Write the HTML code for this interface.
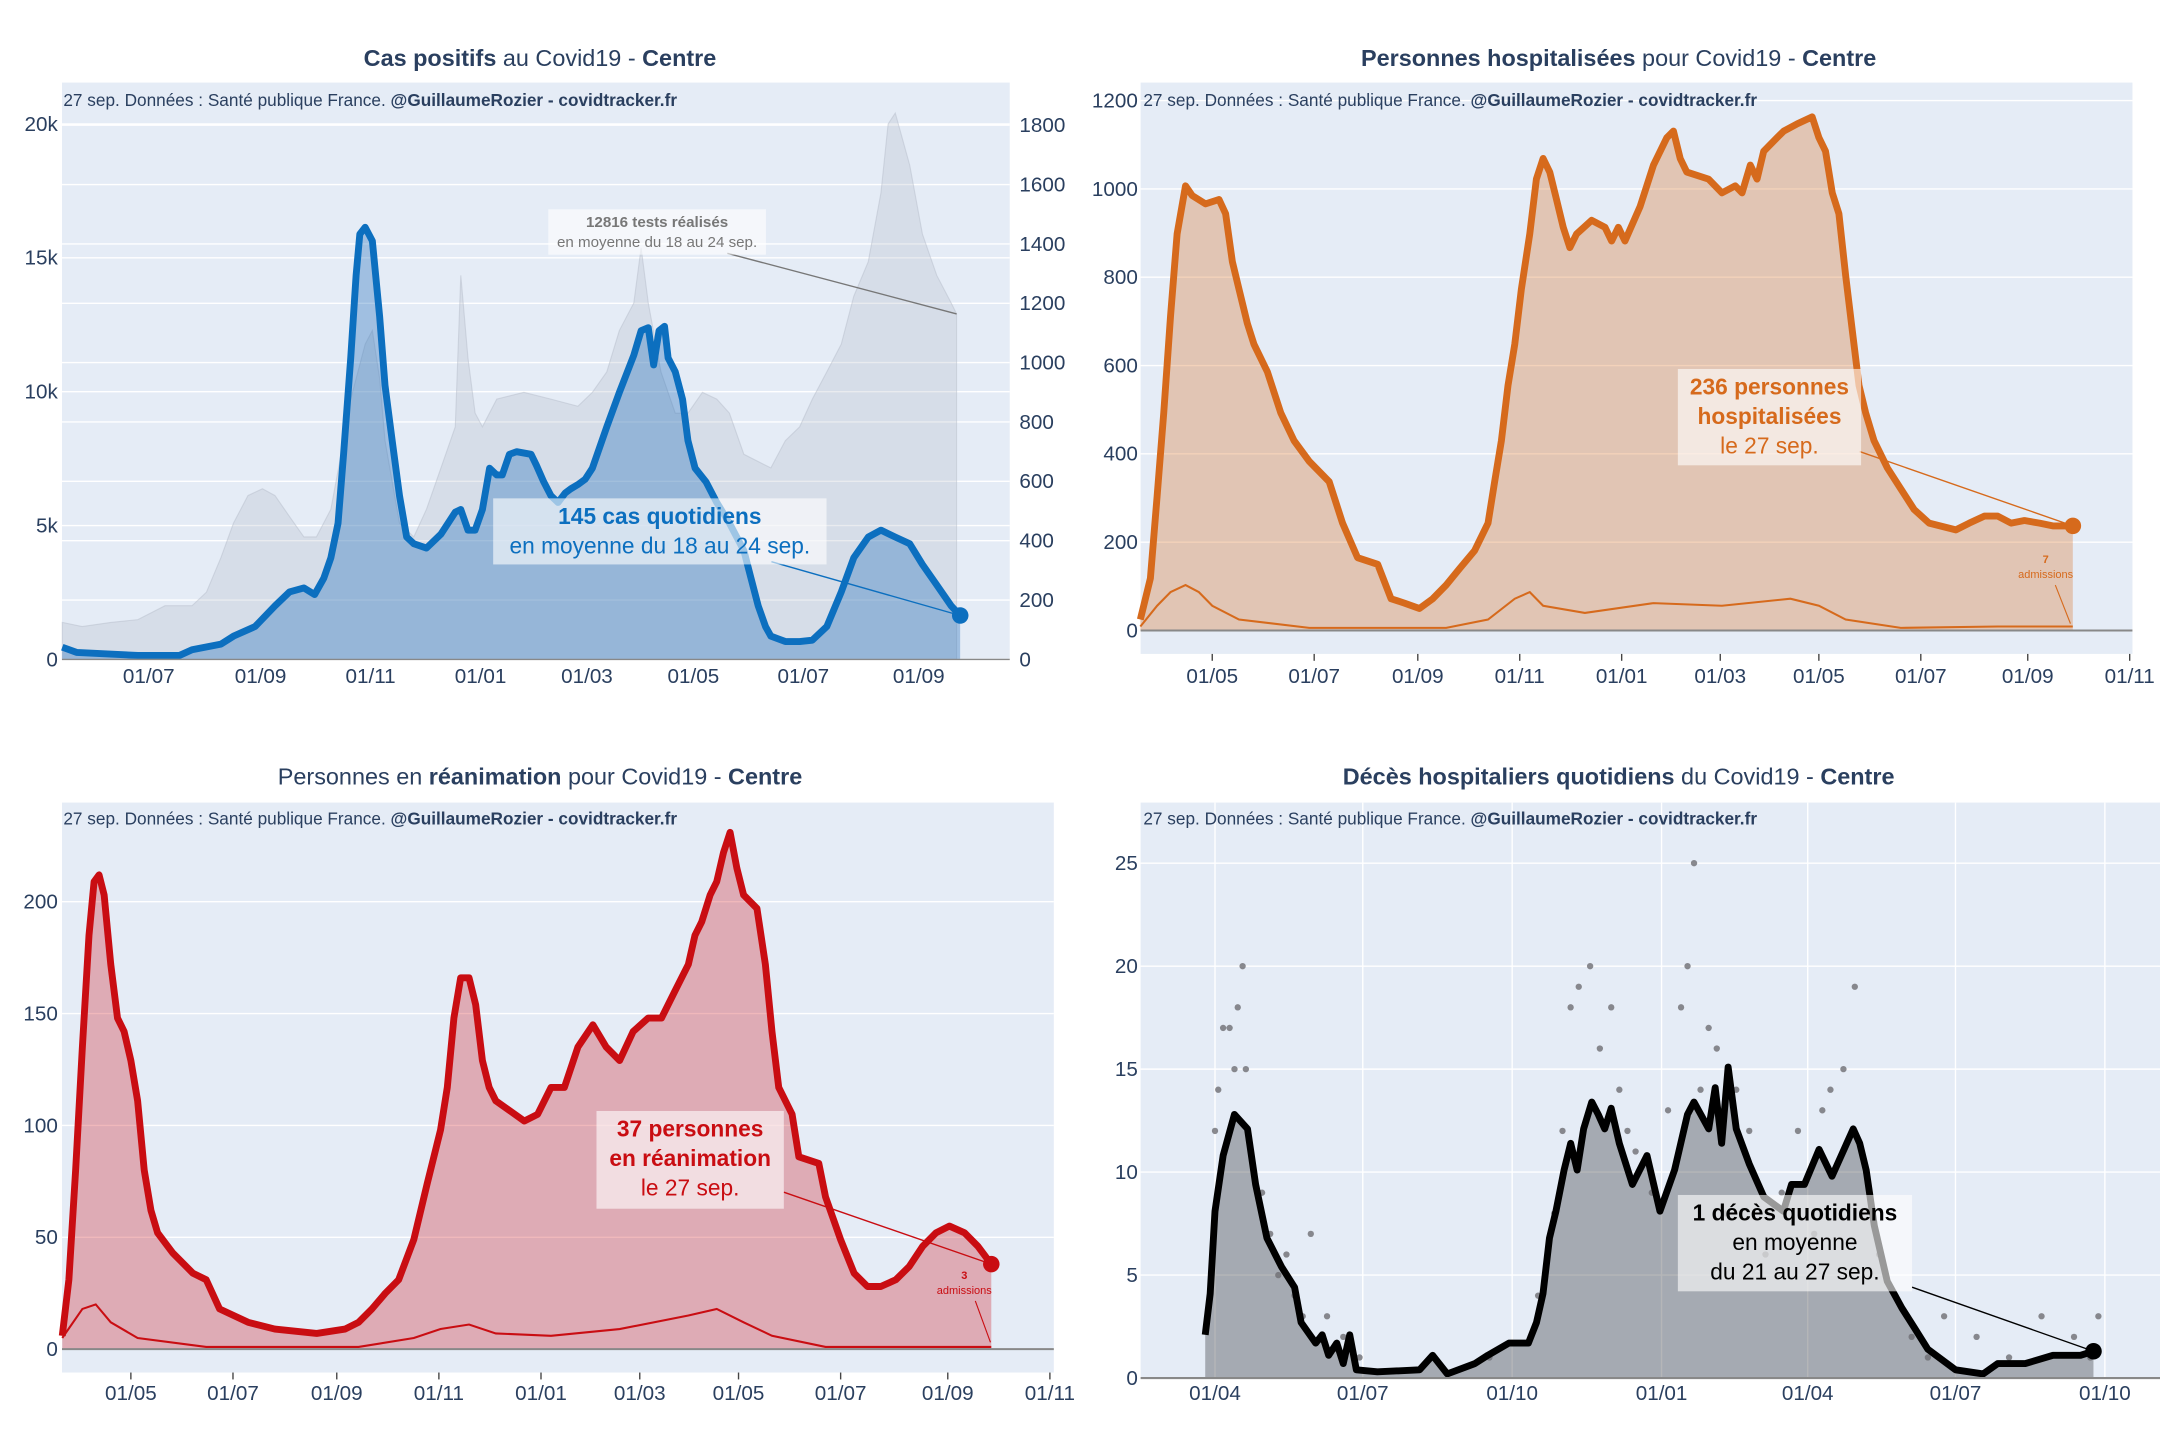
<!DOCTYPE html>
<html><head><meta charset="utf-8"><style>
html,body{margin:0;padding:0;background:#fff;}
svg{display:block;font-family:"Liberation Sans",sans-serif;}
</style></head><body>
<svg id="root" width="2160" height="1440" viewBox="0 0 1568 1046" preserveAspectRatio="none" xmlns="http://www.w3.org/2000/svg"></svg>
<script>
// ---------- DATA (day index since 2020-03-01) ----------
const casesDays=[74,82,116,139,146,162,169,181,192,200,208,214,219,223,227,230,234,237,239,242,246,250,253,257,261,265,269,276,284,292,295,299,303,307,311,315,318,322,326,334,337,341,345,349,353,356,360,364,368,376,383,391,395,399,402,405,408,410,414,418,421,425,431,437,444,452,456,460,464,467,475,483,490,498,506,513,521,528,536,544,551,559,567,572];
const casesVals=[460,260,150,150,360,570,870,1230,2000,2520,2670,2420,3030,3800,5090,7660,11260,14340,15880,16140,15630,12800,10230,8170,6120,4570,4320,4160,4680,5500,5600,4830,4830,5600,7140,6890,6890,7660,7760,7660,7250,6630,6120,5860,6220,6370,6530,6730,7140,8690,9970,11360,12280,12390,11000,12280,12440,11260,10740,9710,8170,7140,6630,5860,5090,4060,3030,2000,1230,870,670,670,720,1230,2520,3800,4570,4830,4570,4320,3550,2780,2000,1640];
const testDays=[74,85,101,116,131,146,154,162,169,177,185,192,200,208,215,223,230,234,238,242,246,250,253,261,269,276,284,292,295,299,303,307,315,330,345,360,368,376,383,391,395,399,406,414,421,429,437,444,452,467,475,483,490,498,506,513,521,528,532,536,544,551,559,567,570];
const testVals=[125,111,125,134,181,181,227,343,459,552,575,552,482,413,413,506,737,877,969,1062,1108,946,737,459,413,506,645,784,1294,1016,830,784,877,900,877,853,900,969,1108,1201,1387,1201,969,830,830,900,877,830,691,645,737,784,877,969,1062,1224,1340,1572,1804,1841,1665,1433,1294,1201,1164];
const c1LeftTicks=[0,5000,10000,15000,20000];
const c1LeftLabels=["0","5k","10k","15k","20k"];
const c1RightTicks=[0,200,400,600,800,1000,1200,1400,1600,1800];
const c1XTickDays=[122,184,245,306,365,424,485,549];
const c1XLabels=["01/07","01/09","01/11","01/01","01/03","01/05","01/07","01/09"];

const hospDays=[18,24,28,32,36,40,45,49,57,65,69,73,77,82,86,94,102,110,119,131,139,148,160,168,176,185,193,201,209,218,226,230,234,238,242,246,251,255,259,263,267,271,275,279,288,296,300,304,308,317,325,333,337,341,345,358,366,374,378,383,387,391,399,403,411,420,424,428,432,436,440,444,448,452,457,465,473,481,490,506,514,523,531,539,547,556,564,576];
const hospVals=[25,118,305,493,711,898,1007,985,966,976,944,835,773,695,648,586,493,430,383,337,243,165,150,72,62,50,72,103,140,181,243,337,430,555,648,773,898,1022,1069,1038,976,913,867,898,929,913,882,913,882,960,1054,1116,1131,1069,1038,1022,991,1007,991,1054,1022,1085,1116,1131,1147,1163,1116,1085,991,944,804,680,555,493,430,368,321,274,243,228,243,259,259,243,249,243,237,237];
const hospAdmDays=[18,28,36,45,53,61,77,119,201,226,242,251,259,284,325,366,407,424,440,473,531,576];
const hospAdmVals=[9,56,87,103,87,56,25,6,6,25,72,87,56,40,62,56,72,56,25,6,9,9];
const c2YTicks=[0,200,400,600,800,1000,1200];
const c2XTickDays=[61,122,184,245,306,365,424,485,549,610];
const c2XLabels=["01/05","01/07","01/09","01/11","01/01","01/03","01/05","01/07","01/09","01/11"];

const reaDays=[20,24,28,32,36,39,42,45,49,53,57,61,65,69,73,77,86,98,106,114,131,147,172,189,197,205,213,221,230,238,246,250,254,258,263,267,271,275,279,296,304,312,320,328,337,345,353,361,370,378,386,394,398,402,407,411,415,419,423,427,435,440,444,448,456,460,472,476,485,493,501,509,518,526,534,542,550,559,567,575];
const reaVals=[6,31,80,135,185,209,212,203,172,148,142,129,111,80,62,52,43,34,31,18,12,9,7,9,12,18,25,31,49,74,98,117,148,166,166,154,129,117,111,102,105,117,117,135,145,135,129,142,148,148,160,172,185,191,203,209,222,231,215,203,197,172,142,117,105,86,83,68,49,34,28,28,31,37,46,52,55,52,46,38];
const reaAdmDays=[20,32,40,49,65,106,197,230,246,263,279,312,353,394,411,427,444,476,575];
const reaAdmVals=[5,18,20,12,5,1,1,5,9,11,7,6,9,15,18,12,6,1,1];
const c3YTicks=[0,50,100,150,200];
const c3XTickDays=[61,122,184,245,306,365,424,485,549,610];
const c3XLabels=["01/05","01/07","01/09","01/11","01/01","01/03","01/05","01/07","01/09","01/11"];

const dcDays=[25,28,31,36,43,51,56,63,72,80,84,93,97,101,106,110,114,118,131,157,165,174,191,199,212,224,229,233,237,241,246,250,254,258,263,267,271,275,280,288,297,305,314,322,326,335,339,343,347,352,360,369,381,386,394,403,411,420,424,428,432,437,445,454,462,470,487,504,513,530,547,564,572];
const dcVals=[2.1,4.1,8.1,10.8,12.8,12.1,9.4,6.8,5.4,4.4,2.7,1.7,2.1,1.1,1.7,0.7,2.1,0.4,0.3,0.4,1.1,0.2,0.7,1.1,1.7,1.7,2.7,4.1,6.8,8.1,10.1,11.4,10.1,12.1,13.4,12.8,12.1,13.1,11.4,9.4,10.8,8.1,10.1,12.8,13.4,12.1,14.1,11.4,15.1,12.1,10.4,8.8,8.1,9.4,9.4,11.1,9.8,11.4,12.1,11.4,10.1,7.4,4.7,3.4,2.4,1.4,0.4,0.2,0.7,0.7,1.1,1.1,1.3];
const dcDotDays=[31,33,36,40,43,45,48,50,55,60,65,70,75,80,85,90,100,110,120,165,200,230,240,245,250,255,262,268,275,280,285,290,300,310,318,322,326,330,335,340,345,352,360,370,380,390,400,405,410,418,425,432,440,450,460,470,480,500,520,540,560,570,575];
const dcDotVals=[12,14,17,17,15,18,20,15,10,9,7,5,6,4,3,7,3,2,1,1,1,4,8,12,18,19,20,16,18,14,12,11,9,13,18,20,25,14,17,16,8,14,12,6,9,12,7,13,14,15,19,10,6,4,2,1,3,2,1,3,2,1,3];
const c4YTicks=[0,5,10,15,20,25];
const c4XTickDays=[31,122,214,306,396,487,579];
const c4XLabels=["01/04","01/07","01/10","01/01","01/04","01/07","01/10"];

// ---------- RENDER ----------
const NS="http://www.w3.org/2000/svg";
const root=document.getElementById('root');
function mk(tag,attrs,parent){const e=document.createElementNS(NS,tag);for(const k in attrs)e.setAttribute(k,attrs[k]);(parent||root).appendChild(e);return e;}
function linePath(days,vals,sx,sy){return days.map((d,i)=>(i?'L':'M')+sx(d).toFixed(1)+','+sy(vals[i]).toFixed(1)).join('');}
function areaPath(days,vals,sx,sy,base){return linePath(days,vals,sx,sy)+'L'+sx(days[days.length-1]).toFixed(1)+','+base+'L'+sx(days[0]).toFixed(1)+','+base+'Z';}
const TXT="#2a3f5f";

function frame(g,x0,y0,x1,y1){const r=mk('rect',{x:x0,y:y0,width:x1-x0,height:y1-y0,fill:'#e5ecf6'},g);

}
function title(g,cx,y,parts){const t=mk('text',{x:cx,y:y,'text-anchor':'middle','font-size':17,fill:TXT},g);


parts.forEach(p=>{const s=mk('tspan',{'font-weight':p[1]?'bold':'normal'},t);s.textContent=p[0];});}
function source(g,x,y){const t=mk('text',{x:x,y:y,'font-size':12.5,fill:TXT},g);


const a=mk('tspan',{},t);a.textContent="27 sep. Données : Santé publique France. ";
const b=mk('tspan',{'font-weight':'bold'},t);b.textContent="@GuillaumeRozier - covidtracker.fr";}
function hgrid(g,ticks,sy,x0,x1){ticks.forEach(v=>{const l=mk('line',{x1:x0,x2:x1,y1:sy(v),y2:sy(v),stroke:'#fff','stroke-width':1},g);

});}
function ylabels(g,ticks,labels,sy,x,anchor){ticks.forEach((v,i)=>{const t=mk('text',{x:x,y:sy(v)+5,'text-anchor':anchor,'font-size':15,fill:TXT},g);


t.textContent=labels?labels[i]:String(v);});}
function xlabels(g,days,labels,sx,y,tickY){days.forEach((d,i)=>{if(tickY!==undefined){const l=mk('line',{x1:sx(d),x2:sx(d),y1:tickY,y2:tickY+5,stroke:'#444','stroke-width':1},g);

}
const t=mk('text',{x:sx(d),y:y,'text-anchor':'middle','font-size':15,fill:TXT},g);


t.textContent=labels[i];});}
function annot(g,bx,by,bw,bh,lines,color,lx1,ly1,lx2,ly2,fs){const l=mk('line',{x1:lx1,y1:ly1,x2:lx2,y2:ly2,stroke:color,'stroke-width':1},g);


const r=mk('rect',{x:bx,y:by,width:bw,height:bh,fill:'rgba(255,255,255,0.6)'},g);


lines.forEach((ln,i)=>{const t=mk('text',{x:bx+bw/2,y:by+fs+2+i*(fs*1.3),'text-anchor':'middle','font-size':fs,fill:color,'font-weight':ln[1]?'bold':'normal'},g);


t.textContent=ln[0];});}

// ===== Chart 1 =====
(function(){
const g=mk('g',{});


const sx=d=>108+(d-122)*1.309, sy=v=>479-v*0.01945, sy2=v=>479-v*0.2156;
frame(g,45,60,733,479);
hgrid(g,c1RightTicks,sy2,45,733);hgrid(g,c1LeftTicks,sy,45,733);
const ta=mk('path',{d:areaPath(testDays,testVals,sx,sy2,479),fill:'rgba(175,182,196,0.28)',stroke:'rgba(180,186,200,0.45)','stroke-width':0.8},g);


const ca=mk('path',{d:areaPath(casesDays,casesVals,sx,sy,479),fill:'rgba(31,110,185,0.35)'},g);


const cl=mk('path',{d:linePath(casesDays,casesVals,sx,sy),fill:'none',stroke:'#0c6fbf','stroke-width':5,'stroke-linejoin':'round'},g);


const ld=casesDays.length-1;
const dot=mk('circle',{cx:sx(casesDays[ld]),cy:sy(casesVals[ld]),r:6,fill:'#0c6fbf'},g);


const ax=mk('line',{x1:45,x2:733,y1:479,y2:479,stroke:'#888','stroke-width':1},g);


ylabels(g,c1LeftTicks,c1LeftLabels,sy,42,'end');
ylabels(g,c1RightTicks,null,sy2,740,'start');
xlabels(g,c1XTickDays,c1XLabels,sx,496);
const lt=testDays.length-1;
annot(g,398,152,158,33,[["12816 tests réalisés",1],["en moyenne du 18 au 24 sep.",0]],'#777',528,184,sx(testDays[lt]),sy2(testVals[lt]),11);
annot(g,358,362,242,48,[["145 cas quotidiens",1],["en moyenne du 18 au 24 sep.",0]],'#0c6fbf',560,408,sx(casesDays[ld]),sy(casesVals[ld]),16.5);
title(g,392,48,[["Cas positifs",1],[" au Covid19 - ",0],["Centre",1]]);
source(g,46,77);
})();

// ===== Chart 2 =====
(function(){
const g=mk('g',{});


const sx=d=>880+(d-61)*1.2131, sy=v=>458-v*0.3208;
frame(g,828,60,1548,475);
hgrid(g,c2YTicks,sy,828,1548);
const a=mk('path',{d:areaPath(hospDays,hospVals,sx,sy,458),fill:'rgba(214,106,28,0.3)'},g);


const al=mk('path',{d:linePath(hospAdmDays,hospAdmVals,sx,sy),fill:'none',stroke:'#d66a1c','stroke-width':1.5},g);


const l=mk('path',{d:linePath(hospDays,hospVals,sx,sy),fill:'none',stroke:'#d66a1c','stroke-width':5,'stroke-linejoin':'round'},g);


const ld=hospDays.length-1;
const dot=mk('circle',{cx:sx(hospDays[ld]),cy:sy(hospVals[ld]),r:6,fill:'#d66a1c'},g);


const ax=mk('line',{x1:828,x2:1548,y1:458,y2:458,stroke:'#888','stroke-width':1.5},g);


ylabels(g,c2YTicks,null,sy,826,'end');
xlabels(g,c2XTickDays,c2XLabels,sx,496,475);
annot(g,1218,268,133,70,[["236 personnes",1],["hospitalisées",1],["le 27 sep.",0]],'#d66a1c',1350,328,sx(hospDays[ld]),sy(hospVals[ld]),16.5);
const la=mk('line',{x1:1492,y1:425,x2:1503,y2:453,stroke:'#d66a1c','stroke-width':0.8},g);


const t1=mk('text',{x:1485,y:409,'text-anchor':'middle','font-size':8,'font-weight':'bold',fill:'#d66a1c'},g);


t1.textContent="7";
const t2=mk('text',{x:1485,y:420,'text-anchor':'middle','font-size':8,fill:'#d66a1c'},g);


t2.textContent="admissions";
title(g,1175,48,[["Personnes hospitalisées",1],[" pour Covid19 - ",0],["Centre",1]]);
source(g,830,77);
})();

// ===== Chart 3 =====
(function(){
const g=mk('g',{});


const sx=d=>95+(d-61)*1.2152, sy=v=>980-v*1.625;
frame(g,45,583,765,997);
hgrid(g,c3YTicks,sy,45,765);
const a=mk('path',{d:areaPath(reaDays,reaVals,sx,sy,980),fill:'rgba(205,20,30,0.3)'},g);


const al=mk('path',{d:linePath(reaAdmDays,reaAdmVals,sx,sy),fill:'none',stroke:'#c90d12','stroke-width':1.5},g);


const l=mk('path',{d:linePath(reaDays,reaVals,sx,sy),fill:'none',stroke:'#c90d12','stroke-width':5,'stroke-linejoin':'round'},g);


const ld=reaDays.length-1;
const dot=mk('circle',{cx:sx(reaDays[ld]),cy:sy(reaVals[ld]),r:6,fill:'#c90d12'},g);


const ax=mk('line',{x1:45,x2:765,y1:980,y2:980,stroke:'#888','stroke-width':1.5},g);


ylabels(g,c3YTicks,null,sy,42,'end');
xlabels(g,c3XTickDays,c3XLabels,sx,1017,997);
annot(g,433,807,136,71,[["37 personnes",1],["en réanimation",1],["le 27 sep.",0]],'#c90d12',569,866,sx(reaDays[ld]),sy(reaVals[ld]),16.5);
const la=mk('line',{x1:708,y1:945,x2:719,y2:975,stroke:'#c90d12','stroke-width':0.8},g);


const t1=mk('text',{x:700,y:929,'text-anchor':'middle','font-size':8,'font-weight':'bold',fill:'#c90d12'},g);


t1.textContent="3";
const t2=mk('text',{x:700,y:940,'text-anchor':'middle','font-size':8,fill:'#c90d12'},g);


t2.textContent="admissions";
title(g,392,570,[["Personnes en ",0],["réanimation",1],[" pour Covid19 - ",0],["Centre",1]]);
source(g,46,599);
})();

// ===== Chart 4 =====
(function(){
const g=mk('g',{});


const sx=d=>882+(d-31)*1.1788, sy=v=>1001-v*14.96;
frame(g,828,583,1568,1001);
hgrid(g,c4YTicks,sy,828,1568);
c4XTickDays.forEach(d=>{const l=mk('line',{x1:sx(d),x2:sx(d),y1:583,y2:1001,stroke:'#fff','stroke-width':1},g);

});
const a=mk('path',{d:areaPath(dcDays,dcVals,sx,sy,1001),fill:'rgba(70,72,78,0.4)'},g);


dcDotDays.forEach((d,i)=>{const c=mk('circle',{cx:sx(d),cy:sy(dcDotVals[i]),r:2.3,fill:'rgba(110,110,115,0.8)'},g);

});
const l=mk('path',{d:linePath(dcDays,dcVals,sx,sy),fill:'none',stroke:'#000','stroke-width':5,'stroke-linejoin':'round'},g);


const ld=dcDays.length-1;
const dot=mk('circle',{cx:sx(dcDays[ld]),cy:sy(dcVals[ld]),r:6,fill:'#000'},g);


const ax=mk('line',{x1:828,x2:1568,y1:1001,y2:1001,stroke:'#888','stroke-width':1.5},g);


ylabels(g,c4YTicks,null,sy,826,'end');
xlabels(g,c4XTickDays,c4XLabels,sx,1017);
annot(g,1218,868,170,70,[["1 décès quotidiens",1],["en moyenne",0],["du 21 au 27 sep.",0]],'#000',1388,935,sx(dcDays[ld]),sy(dcVals[ld]),16.5);
title(g,1175,570,[["Décès hospitaliers quotidiens",1],[" du Covid19 - ",0],["Centre",1]]);
source(g,830,599);
})();
</script>
</body></html>
